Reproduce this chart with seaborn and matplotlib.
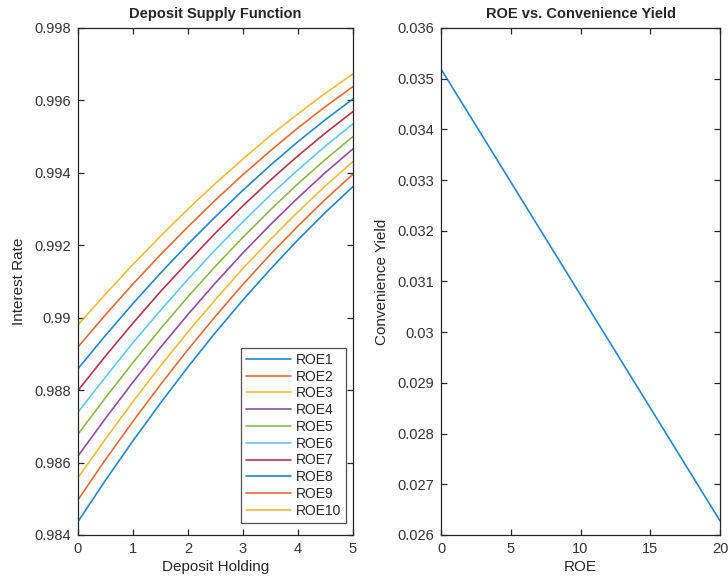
import numpy as np
import pandas as pd
import matplotlib
matplotlib.use("Agg")
import matplotlib.pyplot as plt
import seaborn as sns

# deposit holding grid (left panel)
holding = [0, 0.5, 1, 1.5, 2, 2.5, 3, 3.5, 4, 4.5, 5]

roe1 = [0.98437, 0.98551, 0.98660, 0.98764, 0.98864, 0.98959, 0.99049, 0.99134, 0.99215, 0.99291, 0.99362]
roe2 = [0.98497, 0.98608, 0.98714, 0.98815, 0.98912, 0.99004, 0.99092, 0.99175, 0.99253, 0.99327, 0.99396]
roe3 = [0.98558, 0.98665, 0.98768, 0.98867, 0.98961, 0.99050, 0.99136, 0.99216, 0.99292, 0.99364, 0.99431]
roe4 = [0.98618, 0.98722, 0.98822, 0.98918, 0.99009, 0.99096, 0.99179, 0.99257, 0.99331, 0.99401, 0.99466]
roe5 = [0.98678, 0.98779, 0.98876, 0.98969, 0.99058, 0.99142, 0.99222, 0.99298, 0.99370, 0.99437, 0.99500]
roe6 = [0.98739, 0.98836, 0.98931, 0.99020, 0.99106, 0.99188, 0.99265, 0.99339, 0.99408, 0.99474, 0.99535]
roe7 = [0.98799, 0.98894, 0.98985, 0.99072, 0.99154, 0.99234, 0.99309, 0.99380, 0.99447, 0.99510, 0.99569]
roe8 = [0.98859, 0.98951, 0.99039, 0.99123, 0.99203, 0.99279, 0.99352, 0.99421, 0.99486, 0.99547, 0.99604]
roe9 = [0.98919, 0.99008, 0.99093, 0.99174, 0.99251, 0.99325, 0.99395, 0.99461, 0.99524, 0.99583, 0.99638]
roe10 = [0.98980, 0.99065, 0.99147, 0.99225, 0.99300, 0.99371, 0.99438, 0.99503, 0.99563, 0.99620, 0.99673]
series_names = ['ROE1', 'ROE2', 'ROE3', 'ROE4', 'ROE5', 'ROE6', 'ROE7', 'ROE8', 'ROE9', 'ROE10']
series_vals = [roe1, roe2, roe3, roe4, roe5, roe6, roe7, roe8, roe9, roe10]

# right panel
roe = [0, 20]
conv_yield = [0.03519, 0.02628]

# matlab default colour order
matlab_colors = ['#0072BD', '#D95319', '#EDB120', '#7E2F8E', '#77AC30',
                 '#4DBEEE', '#A2142F', '#0072BD', '#D95319', '#EDB120']

sns.set_style("ticks")
plt.rcParams['font.family'] = ['Liberation Sans', 'DejaVu Sans']

rows = []
for name, vals in zip(series_names, series_vals):
    for h, v in zip(holding, vals):
        rows.append({'holding': h, 'rate': v, 'series': name})
df = pd.DataFrame(rows)
df_right = pd.DataFrame({'roe': roe, 'cy': conv_yield})

fig = plt.figure(figsize=(7.28, 5.85), dpi=100)
ax1 = fig.add_axes([0.1071, 0.0855, 0.3777, 0.8667])
ax2 = fig.add_axes([0.6058, 0.0855, 0.3832, 0.8667])

sns.lineplot(data=df, x='holding', y='rate', hue='series', hue_order=series_names,
             palette=matlab_colors, linewidth=1.2, alpha=0.85, ax=ax1)
sns.lineplot(data=df_right, x='roe', y='cy', color='#0072BD', linewidth=1.2, alpha=0.85, ax=ax2)

ax1.set_xlim(0, 5)
ax1.set_ylim(0.984, 0.998)
ax1.set_xticks([0, 1, 2, 3, 4, 5])
ax1.set_yticks([0.984, 0.986, 0.988, 0.99, 0.992, 0.994, 0.996, 0.998])
ax1.set_yticklabels(['0.984', '0.986', '0.988', '0.99', '0.992', '0.994', '0.996', '0.998'])
ax1.set_title('Deposit Supply Function', fontsize=10.5, fontweight='bold', pad=7)
ax1.set_xlabel('Deposit Holding', fontsize=11, labelpad=3)
ax1.set_ylabel('Interest Rate', fontsize=11, labelpad=6)

ax2.set_xlim(0, 20)
ax2.set_ylim(0.026, 0.036)
ax2.set_xticks([0, 5, 10, 15, 20])
yt = [0.026, 0.027, 0.028, 0.029, 0.03, 0.031, 0.032, 0.033, 0.034, 0.035, 0.036]
ax2.set_yticks(yt)
ax2.set_yticklabels(['0.026', '0.027', '0.028', '0.029', '0.03', '0.031', '0.032',
                     '0.033', '0.034', '0.035', '0.036'])
ax2.set_title('ROE vs. Convenience Yield', fontsize=10.5, fontweight='bold', pad=7)
ax2.set_xlabel('ROE', fontsize=11, labelpad=3)
ax2.set_ylabel('Convenience Yield', fontsize=11, labelpad=6)

for ax in (ax1, ax2):
    for sp in ax.spines.values():
        sp.set_visible(True)
        sp.set_color('#262626')
        sp.set_linewidth(0.9)
    ax.tick_params(direction='in', top=True, right=True, length=4, width=0.9,
                   color='#262626', labelsize=10.5, labelcolor='#333333', pad=5)

leg = ax1.legend(loc='lower right', bbox_to_anchor=(0.9735, 0.0243), borderaxespad=0,
                 fontsize=10, labelspacing=0.2, handlelength=3.2, handletextpad=0.35,
                 borderpad=0.35, frameon=True, fancybox=False)
leg.get_frame().set_edgecolor('#262626')
leg.get_frame().set_linewidth(0.9)
for line in leg.get_lines():
    line.set_linewidth(1.2)

fig.savefig('out.png', dpi=100)
